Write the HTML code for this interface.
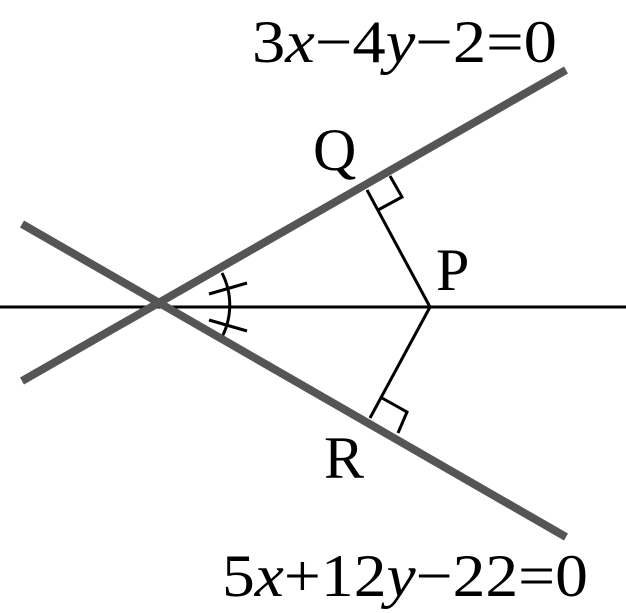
<!DOCTYPE html>
<html><head><style>html,body{margin:0;padding:0;background:#fff}
svg text{font-family:"Liberation Serif","DejaVu Serif","Noto Serif CJK SC",serif;font-size:60px}</style></head>
<body>
<svg width="626" height="613" viewBox="0 0 626 613" xmlns="http://www.w3.org/2000/svg" style="display:block">
<g stroke="#000" stroke-width="3" fill="none">
<line x1="0" y1="307" x2="626" y2="307"/>
<line x1="367" y1="190" x2="430" y2="307"/>
<line x1="370" y1="418" x2="430" y2="307"/>
<polyline points="390,176 402,197 378,210"/>
<polyline points="382,398 407,412 398,433"/>
<path d="M 222,273 A 70 70 0 0 1 222,337"/>
<line x1="209" y1="294" x2="247" y2="283"/>
<line x1="209" y1="320" x2="247" y2="331"/>
</g>
<g stroke="#555" stroke-width="8" stroke-linecap="butt">
<line x1="22" y1="381" x2="566" y2="70"/>
<line x1="22" y1="224" x2="566" y2="537"/>
</g>
<g fill="#000">
<text x="252" y="62" textLength="305" lengthAdjust="spacingAndGlyphs">3<tspan font-style="italic">x</tspan>−4<tspan font-style="italic">y</tspan>−2=0</text>
<text x="222" y="596" textLength="366" lengthAdjust="spacingAndGlyphs">5<tspan font-style="italic">x</tspan>+12<tspan font-style="italic">y</tspan>−22=0</text>
<text x="313" y="170">Q</text>
<text x="436" y="290">P</text>
<text x="324" y="478">R</text>
</g>
</svg>
</body></html>
